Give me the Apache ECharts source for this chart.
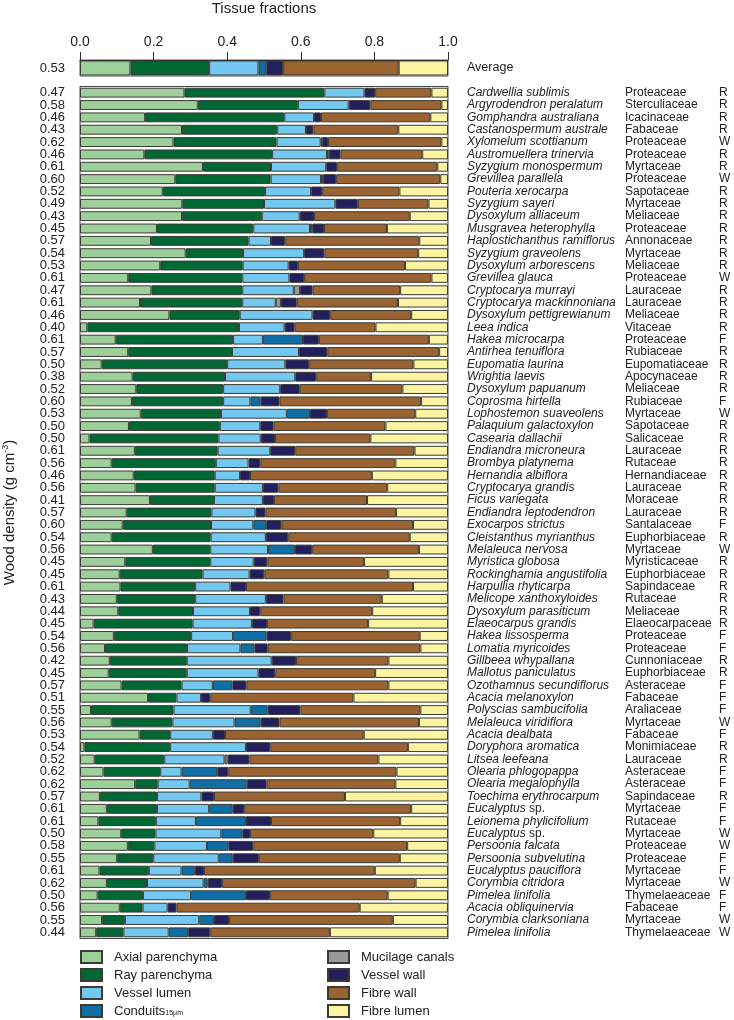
<!DOCTYPE html>
<html><head><meta charset="utf-8">
<script src="https://cdn.jsdelivr.net/npm/echarts@6/dist/echarts.min.js"></script>
<style>html,body{margin:0;padding:0;background:#fff}#c{width:734px;height:1020px}</style>
</head><body><div id="c"></div>
<script>
const seriesNames = ['Axial parenchyma','Ray parenchyma','Vessel lumen','Conduits','Mucilage canals','Vessel wall','Fibre wall','Fibre lumen'];
const colors = ['#9ccf9a','#006835','#72c8f0','#0f6ea5','#9a9a9a','#221f5c','#9a6331','#fdf4a2'];

const avgDensity = [0.53];
const avgValues = [0.137,0.214,0.134,0.021,0,0.046,0.314,0.134];

const species = ['Cardwellia sublimis','Argyrodendron peralatum','Gomphandra australiana','Castanospermum australe','Xylomelum scottianum','Austromuellera trinervia','Syzygium monospermum','Grevillea parallela','Pouteria xerocarpa','Syzygium sayeri',
'Dysoxylum alliaceum','Musgravea heterophylla','Haplostichanthus ramiflorus','Syzygium graveolens','Dysoxylum arborescens','Grevillea glauca','Cryptocarya murrayi','Cryptocarya mackinnoniana','Dysoxylum pettigrewianum','Leea indica',
'Hakea microcarpa','Antirhea tenuiflora','Eupomatia laurina','Wrightia laevis','Dysoxylum papuanum','Coprosma hirtella','Lophostemon suaveolens','Palaquium galactoxylon','Casearia dallachii','Endiandra microneura',
'Brombya platynema','Hernandia albiflora','Cryptocarya grandis','Ficus variegata','Endiandra leptodendron','Exocarpos strictus','Cleistanthus myrianthus','Melaleuca nervosa','Myristica globosa','Rockinghamia angustifolia',
'Harpullia rhyticarpa','Melicope xanthoxyloides','Dysoxylum parasiticum','Elaeocarpus grandis','Hakea lissosperma','Lomatia myricoides','Gillbeea whypallana','Mallotus paniculatus','Ozothamnus secundiflorus','Acacia melanoxylon',
'Polyscias sambucifolia','Melaleuca viridiflora','Acacia dealbata','Doryphora aromatica','Litsea leefeana','Olearia phlogopappa','Olearia megalophylla','Toechima erythrocarpum','Eucalyptus sp.','Leionema phylicifolium',
'Eucalyptus sp.','Persoonia falcata','Persoonia subvelutina','Eucalyptus pauciflora','Corymbia citridora','Pimelea linifolia','Acacia obliquinervia','Corymbia clarksoniana','Pimelea linifolia'];

const families = ['Proteaceae','Sterculiaceae','Icacinaceae','Fabaceae','Proteaceae','Proteaceae','Myrtaceae','Proteaceae','Sapotaceae','Myrtaceae',
'Meliaceae','Proteaceae','Annonaceae','Myrtaceae','Meliaceae','Proteaceae','Lauraceae','Lauraceae','Meliaceae','Vitaceae',
'Proteaceae','Rubiaceae','Eupomatiaceae','Apocynaceae','Meliaceae','Rubiaceae','Myrtaceae','Sapotaceae','Salicaceae','Lauraceae',
'Rutaceae','Hernandiaceae','Lauraceae','Moraceae','Lauraceae','Santalaceae','Euphorbiaceae','Myrtaceae','Myristicaceae','Euphorbiaceae',
'Sapindaceae','Rutaceae','Meliaceae','Elaeocarpaceae','Proteaceae','Proteaceae','Cunnoniaceae','Euphorbiaceae','Asteraceae','Fabaceae',
'Araliaceae','Myrtaceae','Fabaceae','Monimiaceae','Lauraceae','Asteraceae','Asteraceae','Sapindaceae','Myrtaceae','Rutaceae',
'Myrtaceae','Proteaceae','Proteaceae','Myrtaceae','Myrtaceae','Thymelaeaceae','Fabaceae','Myrtaceae','Thymelaeaceae'];

const habitat = ['R','R','R','R','W','R','R','W','R','R',
'R','R','R','R','R','W','R','R','R','R',
'F','R','R','R','R','F','W','R','R','R',
'R','R','R','R','R','F','R','W','R','R',
'R','R','R','R','F','F','R','R','F','F',
'F','W','F','R','R','F','F','R','F','F',
'W','W','F','F','W','F','F','W','W'];

const density = [0.47,0.58,0.46,0.43,0.62,0.46,0.61,0.60,0.52,0.49,
0.43,0.45,0.57,0.54,0.53,0.61,0.47,0.61,0.46,0.40,
0.61,0.57,0.50,0.38,0.52,0.60,0.53,0.50,0.50,0.61,
0.56,0.46,0.56,0.41,0.57,0.60,0.54,0.56,0.45,0.45,
0.61,0.43,0.44,0.45,0.54,0.56,0.42,0.45,0.57,0.51,
0.55,0.56,0.53,0.54,0.52,0.62,0.62,0.57,0.61,0.61,
0.50,0.58,0.55,0.61,0.62,0.50,0.56,0.55,0.44];

const axial = [0.284,0.320,0.177,0.277,0.254,0.175,0.334,0.259,0.225,0.278,
0.277,0.209,0.193,0.287,0.218,0.131,0.194,0.163,0.243,0.020,
0.097,0.131,0.059,0.143,0.153,0.141,0.165,0.133,0.026,0.149,
0.086,0.146,0.151,0.190,0.127,0.116,0.086,0.198,0.123,0.108,
0.110,0.100,0.104,0.037,0.092,0.068,0.081,0.078,0.113,0.185,
0.030,0.086,0.162,0.012,0.040,0.064,0.150,0.054,0.073,0.050,
0.112,0.130,0.101,0.053,0.073,0.048,0.108,0.060,0.044];

const ray = [0.380,0.272,0.378,0.259,0.280,0.347,0.185,0.259,0.278,0.222,
0.217,0.262,0.265,0.156,0.224,0.310,0.247,0.278,0.191,0.412,
0.319,0.282,0.341,0.251,0.236,0.248,0.218,0.247,0.350,0.225,
0.283,0.220,0.215,0.174,0.230,0.240,0.269,0.156,0.231,0.225,
0.203,0.213,0.203,0.269,0.210,0.223,0.209,0.212,0.163,0.077,
0.224,0.165,0.083,0.233,0.189,0.154,0.061,0.155,0.136,0.156,
0.093,0.072,0.098,0.134,0.109,0.123,0.062,0.062,0.074];

const vesselLumen = [0.109,0.138,0.081,0.078,0.120,0.149,0.150,0.137,0.125,0.194,
0.103,0.154,0.061,0.166,0.125,0.128,0.140,0.091,0.198,0.124,
0.081,0.182,0.158,0.191,0.155,0.074,0.179,0.110,0.115,0.143,
0.089,0.069,0.131,0.133,0.120,0.115,0.150,0.157,0.118,0.128,
0.096,0.192,0.155,0.161,0.114,0.145,0.231,0.195,0.085,0.067,
0.210,0.169,0.116,0.206,0.164,0.058,0.087,0.121,0.142,0.109,
0.179,0.143,0.178,0.089,0.154,0.131,0.068,0.202,0.123];

const conduits = [0,0,0,0,0.004,0.005,0,0.005,0,0,
0,0.006,0,0,0,0,0,0,0,0,
0.109,0,0,0,0,0.028,0.063,0,0,0,
0,0,0,0,0,0.035,0,0.073,0,0,
0,0,0,0,0.091,0.038,0,0,0.053,0,
0.046,0.071,0,0,0,0.097,0.155,0,0.064,0.136,
0.057,0.058,0.038,0.036,0.011,0.149,0,0.040,0.053];

const mucilage = [0,0,0,0,0,0,0,0,0,0,
0,0,0,0,0,0,0.017,0.014,0,0,
0,0,0,0,0,0,0,0,0,0,
0,0,0,0,0,0,0,0,0,0,
0,0,0,0,0,0,0,0,0,0,
0,0,0,0,0.008,0,0,0,0,0,
0,0,0,0,0,0,0,0,0];

const vesselWall = [0.029,0.059,0.019,0.020,0.016,0.032,0.030,0.036,0.030,0.061,
0.039,0.032,0.039,0.055,0.025,0.040,0.034,0.043,0.048,0.027,
0.043,0.077,0.065,0.057,0.053,0.051,0.046,0.036,0.039,0.068,
0.032,0.027,0.042,0.030,0.027,0.041,0.061,0.047,0.037,0.040,
0.042,0.048,0.028,0.041,0.067,0.036,0.066,0.046,0.038,0.025,
0.089,0.051,0.033,0.066,0.059,0.030,0.054,0.034,0.031,0.068,
0.021,0.068,0.071,0.025,0.039,0.065,0.024,0.041,0.060];

const fibreWall = [0.153,0.193,0.297,0.231,0.308,0.222,0.272,0.283,0.210,0.192,
0.260,0.171,0.364,0.255,0.291,0.346,0.238,0.275,0.220,0.220,
0.299,0.304,0.283,0.149,0.279,0.385,0.240,0.304,0.259,0.324,
0.367,0.331,0.296,0.253,0.355,0.358,0.330,0.290,0.263,0.337,
0.454,0.267,0.304,0.275,0.349,0.415,0.251,0.271,0.386,0.389,
0.326,0.379,0.377,0.374,0.351,0.457,0.350,0.356,0.454,0.351,
0.335,0.418,0.383,0.464,0.526,0.320,0.498,0.445,0.325];

const fibreLumen = [0.045,0.018,0.048,0.135,0.018,0.070,0.029,0.021,0.132,0.053,
0.104,0.166,0.078,0.081,0.117,0.045,0.130,0.136,0.100,0.197,
0.052,0.024,0.094,0.209,0.124,0.073,0.089,0.170,0.211,0.091,
0.143,0.207,0.165,0.220,0.141,0.095,0.104,0.079,0.228,0.162,
0.095,0.180,0.206,0.217,0.077,0.075,0.162,0.198,0.162,0.257,
0.075,0.079,0.229,0.109,0.189,0.140,0.143,0.280,0.100,0.130,
0.203,0.111,0.131,0.199,0.088,0.164,0.240,0.150,0.321];

const tickLabels = ['0.0','0.2','0.4','0.6','0.8','1.0'];

const speciesSeries = [axial, ray, vesselLumen, conduits, mucilage, vesselWall, fibreWall, fibreLumen];
const rowIdx = species.map((_, i) => String(i));
const toData = arr => arr.map(v => v > 0 ? v : '-');

const FONT = "'Liberation Sans', Arial, sans-serif";
const NARROW = "'Liberation Sans Narrow', 'Liberation Sans', Arial, sans-serif";
const border = {borderColor: '#3b3b33', borderWidth: 1};

const series = [];
seriesNames.forEach((name, k) => {
  series.push({
    name, type: 'bar', stack: 'avg', xAxisIndex: 0, yAxisIndex: 0,
    barWidth: 15, data: toData([avgValues[k]]),
    itemStyle: Object.assign({color: colors[k]}, border), silent: true
  });
  series.push({
    name, type: 'bar', stack: 'sp', xAxisIndex: 1, yAxisIndex: 1,
    barCategoryGap: '20%', data: toData(speciesSeries[k]),
    itemStyle: Object.assign({color: colors[k]}, border), silent: true
  });
});

const speciesFmt = (v) => {
  const s = species[+v];
  if (s.endsWith(' sp.')) return '{i|' + s.slice(0, -4) + '}{n| sp.}';
  return '{i|' + s + '}';
};

const chart = echarts.init(document.getElementById('c'), null, {renderer: 'canvas'});
chart.setOption({
  animation: false,
  backgroundColor: '#fff',
  textStyle: {fontFamily: FONT},
  grid: [
    {left: 80, right: 286, top: 60, height: 16, show: true, borderColor: '#555', borderWidth: 1, containLabel: false, outerBoundsMode: 'none'},
    {left: 80, right: 286, top: 86.5, height: 852, show: true, borderColor: '#444', borderWidth: 1, containLabel: false, outerBoundsMode: 'none'}
  ],
  xAxis: [
    {gridIndex: 0, type: 'value', position: 'top', min: 0, max: 1, interval: 0.2,
     name: 'Tissue fractions', nameLocation: 'middle', nameGap: 44,
     nameTextStyle: {fontSize: 15, color: '#222', fontFamily: NARROW},
     axisLine: {show: true, lineStyle: {color: '#333'}},
     axisTick: {show: true, length: 8, lineStyle: {color: '#333'}},
     axisLabel: {fontSize: 14, color: '#222', fontFamily: NARROW, margin: 11, formatter: (v) => tickLabels[Math.round(v / 0.2)]},
     splitLine: {show: false}},
    {gridIndex: 1, type: 'value', min: 0, max: 1, show: false, splitLine: {show: false}}
  ],
  yAxis: [
    {gridIndex: 0, type: 'category', data: ['avg'], position: 'left',
     axisLine: {show: false}, axisTick: {show: false},
     axisLabel: {margin: 15, fontSize: 13, color: '#222', fontFamily: NARROW, formatter: () => avgDensity[0].toFixed(2)}},
    {gridIndex: 1, type: 'category', data: rowIdx, inverse: true, position: 'left',
     name: '{t|Wood density (g cm}{s|-3}{t|)}', nameLocation: 'middle', nameGap: 62, nameRotate: 90,
     nameTextStyle: {fontSize: 15, color: '#222', rich: {t: {fontSize: 15, color: '#222'}, s: {fontSize: 9, color: '#222', verticalAlign: 'top', padding: [0, 0, 8, 0]}}},
     axisLine: {show: false}, axisTick: {show: false},
     axisLabel: {interval: 0, margin: 15, fontSize: 13, color: '#222', fontFamily: NARROW, formatter: (v) => density[+v].toFixed(2)}},
    {gridIndex: 0, type: 'category', data: ['avg'], position: 'right',
     axisLine: {show: false}, axisTick: {show: false},
     axisLabel: {margin: 19, fontSize: 12.5, color: '#222', formatter: () => 'Average'}},
    {gridIndex: 1, type: 'category', data: rowIdx, inverse: true, position: 'right', offset: 0,
     axisLine: {show: false}, axisTick: {show: false},
     axisLabel: {interval: 0, margin: 19, fontSize: 12, color: '#222', formatter: speciesFmt,
       rich: {i: {fontStyle: 'italic', fontSize: 12, color: '#222'}, n: {fontSize: 12, color: '#222'}}}},
    {gridIndex: 1, type: 'category', data: rowIdx, inverse: true, position: 'right', offset: 158,
     axisLine: {show: false}, axisTick: {show: false},
     axisLabel: {interval: 0, margin: 19, fontSize: 12, color: '#222', formatter: (v) => families[+v]}},
    {gridIndex: 1, type: 'category', data: rowIdx, inverse: true, position: 'right', offset: 252,
     axisLine: {show: false}, axisTick: {show: false},
     axisLabel: {interval: 0, margin: 19, fontSize: 12, color: '#222', formatter: (v) => habitat[+v]}}
  ],
  legend: [
    {left: 80, top: 950, height: 80, padding: 0, orient: 'vertical', icon: 'rect', itemWidth: 21, itemHeight: 12, itemGap: 4,
     data: seriesNames.slice(0, 4), selectedMode: false,
     formatter: (n) => n === 'Conduits' ? '{m|Conduits}{sub|15μm}' : n,
     textStyle: {fontSize: 13, lineHeight: 12, color: '#222', padding: [0, 0, 0, 7],
       rich: {m: {fontSize: 13, lineHeight: 12, color: '#222'}, sub: {fontSize: 7, lineHeight: 4, color: '#222', verticalAlign: 'bottom'}}}},
    {left: 327, top: 950, height: 80, padding: 0, orient: 'vertical', icon: 'rect', itemWidth: 21, itemHeight: 12, itemGap: 4,
     data: seriesNames.slice(4), selectedMode: false,
     textStyle: {fontSize: 13, lineHeight: 12, color: '#222', padding: [0, 0, 0, 7]}}
  ],
  series
});
</script>
</body></html>
